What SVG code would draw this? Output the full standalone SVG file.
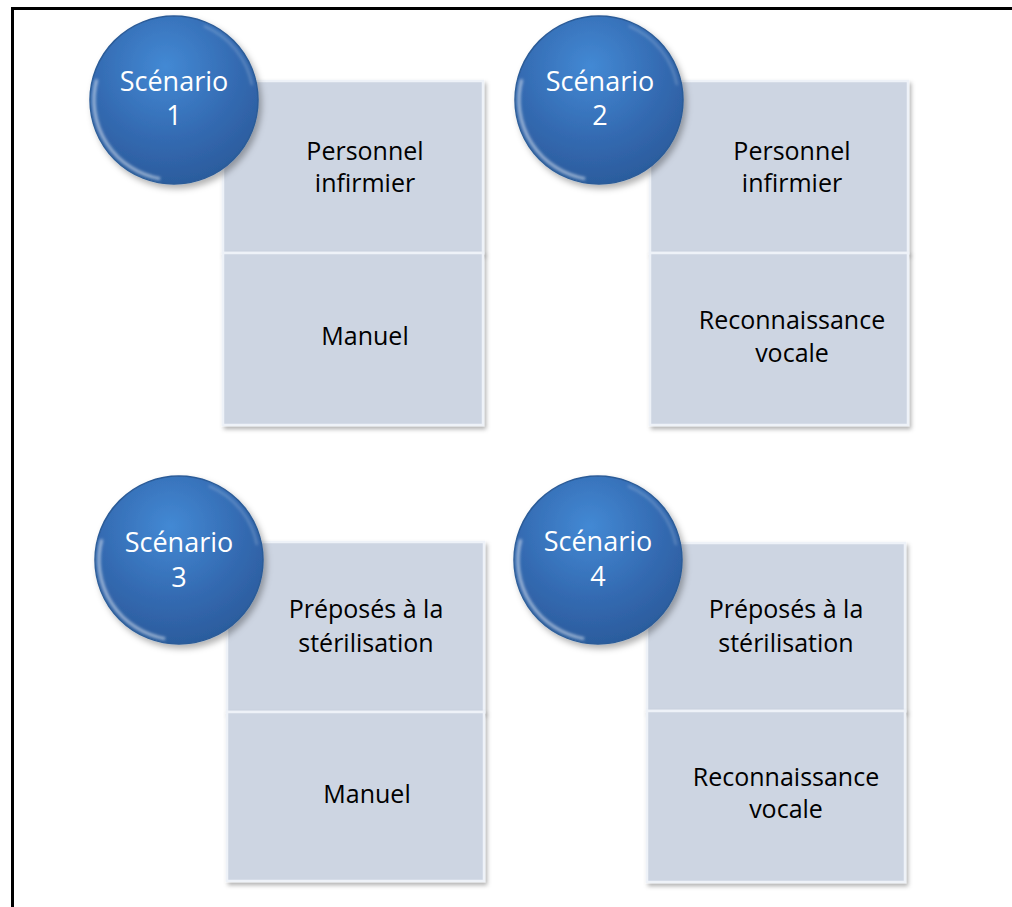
<svg xmlns="http://www.w3.org/2000/svg" width="1012" height="907" viewBox="0 0 1012 907">
  <defs>
    <radialGradient id="ballFill" cx="0.45" cy="0.3" r="0.75">
      <stop offset="0" stop-color="#4389D4"/>
      <stop offset="0.6" stop-color="#3369B0"/>
      <stop offset="1" stop-color="#2A5A9A"/>
    </radialGradient>
    <filter id="boxShadow" x="-10%" y="-10%" width="125%" height="125%">
      <feDropShadow dx="2" dy="3" stdDeviation="2" flood-color="#000" flood-opacity="0.3"/>
    </filter>
    <filter id="ballShadow" x="-20%" y="-20%" width="150%" height="150%">
      <feDropShadow dx="3" dy="4" stdDeviation="3" flood-color="#000" flood-opacity="0.3"/>
    </filter>
    <filter id="soft" x="-20%" y="-20%" width="140%" height="140%">
      <feGaussianBlur stdDeviation="1.5"/>
    </filter>
    <g id="ball">
      <circle r="84" fill="url(#ballFill)" stroke="#2C5C98" stroke-width="1.5" filter="url(#ballShadow)"/>
      <path d="M -13.9 78.8 A 80 80 0 0 1 -77.3 -20.7" fill="none" stroke="#FFFFFF" stroke-opacity="0.55" stroke-width="3" filter="url(#soft)"/>
      <path d="M 30 -74 A 80 80 0 0 1 78 -15" fill="none" stroke="#FFFFFF" stroke-opacity="0.25" stroke-width="2" filter="url(#soft)"/>
    </g>
  </defs>
  <style>
    .frame { fill: none; stroke: #000; stroke-width: 3; }
    .cell { fill: #CDD5E2; stroke: #EEF2F8; stroke-width: 2.5; filter: url(#boxShadow); }
    .head { font-family: "Open Sans", "Noto Sans", sans-serif; font-size: 27px; fill: #FFFFFF; text-anchor: middle; }
    .label { font-family: "Open Sans", "Noto Sans", sans-serif; font-size: 25px; fill: #000000; text-anchor: middle; }
  </style>

  <rect width="1012" height="907" fill="#FFFFFF"/>
  <!-- page frame: left and top edges only, running off the page -->
  <rect class="frame" x="12.5" y="8.5" width="1020" height="920"/>

  <!-- Scenario 1 -->
  <g id="s1-role">
    <rect class="cell" x="223" y="81" width="260" height="172"/>
    <text class="label" x="365" y="160">Personnel</text>
    <text class="label" x="365" y="192">infirmier</text>
  </g>
  <g id="s1-mode">
    <rect class="cell" x="223" y="253" width="260" height="172"/>
    <text class="label" x="365" y="345">Manuel</text>
  </g>
  <g id="s1">
    <use href="#ball" x="174" y="100"/>
    <text class="head" x="174" y="91">Scénario</text>
    <text class="head" x="174" y="125">1</text>
  </g>

  <!-- Scenario 2 -->
  <g id="s2-role">
    <rect class="cell" x="650" y="81" width="258" height="172"/>
    <text class="label" x="792" y="160">Personnel</text>
    <text class="label" x="792" y="192">infirmier</text>
  </g>
  <g id="s2-mode">
    <rect class="cell" x="650" y="253" width="258" height="172"/>
    <text class="label" x="792" y="329">Reconnaissance</text>
    <text class="label" x="792" y="362">vocale</text>
  </g>
  <g id="s2">
    <use href="#ball" x="599" y="100"/>
    <text class="head" x="600" y="91">Scénario</text>
    <text class="head" x="600" y="125">2</text>
  </g>

  <!-- Scenario 3 -->
  <g id="s3-role">
    <rect class="cell" x="227" y="542" width="257" height="170"/>
    <text class="label" x="366" y="618">Préposés à la</text>
    <text class="label" x="366" y="652">stérilisation</text>
  </g>
  <g id="s3-mode">
    <rect class="cell" x="227" y="712" width="257" height="169"/>
    <text class="label" x="367" y="803">Manuel</text>
  </g>
  <g id="s3">
    <use href="#ball" x="179" y="560"/>
    <text class="head" x="179" y="552">Scénario</text>
    <text class="head" x="179" y="587">3</text>
  </g>

  <!-- Scenario 4 -->
  <g id="s4-role">
    <rect class="cell" x="647" y="543" width="258" height="168"/>
    <text class="label" x="786" y="618">Préposés à la</text>
    <text class="label" x="786" y="652">stérilisation</text>
  </g>
  <g id="s4-mode">
    <rect class="cell" x="647" y="711" width="258" height="171"/>
    <text class="label" x="786" y="786">Reconnaissance</text>
    <text class="label" x="786" y="818">vocale</text>
  </g>
  <g id="s4">
    <use href="#ball" x="598" y="560"/>
    <text class="head" x="598" y="551">Scénario</text>
    <text class="head" x="598" y="586">4</text>
  </g>
</svg>
